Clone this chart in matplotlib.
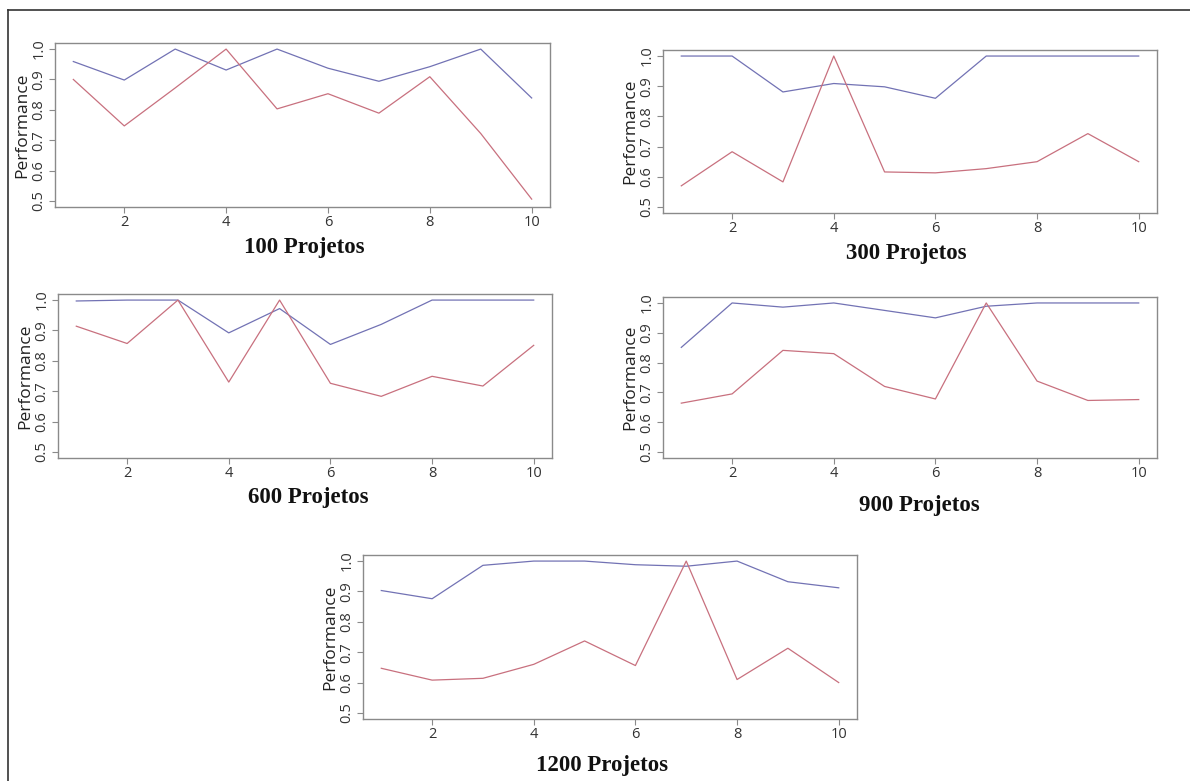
import matplotlib
matplotlib.use("Agg")
import matplotlib.pyplot as plt
from matplotlib.lines import Line2D

x = list(range(1, 11))

blue_100 = [0.959, 0.898, 1.0, 0.931, 1.0, 0.937, 0.894, 0.942, 1.0, 0.839]
red_100 = [0.900, 0.747, 0.872, 1.0, 0.803, 0.853, 0.789, 0.909, 0.722, 0.506]

blue_300 = [1.0, 1.0, 0.881, 0.909, 0.898, 0.860, 1.0, 1.0, 1.0, 1.0]
red_300 = [0.570, 0.683, 0.583, 1.0, 0.616, 0.613, 0.627, 0.650, 0.743, 0.650]

blue_600 = [0.997, 1.0, 1.0, 0.892, 0.972, 0.854, 0.920, 1.0, 1.0, 1.0]
red_600 = [0.914, 0.857, 1.0, 0.730, 1.0, 0.726, 0.683, 0.749, 0.717, 0.851]

blue_900 = [0.851, 1.0, 0.986, 1.0, 0.975, 0.950, 0.989, 1.0, 1.0, 1.0]
red_900 = [0.664, 0.695, 0.841, 0.830, 0.720, 0.678, 1.0, 0.738, 0.673, 0.676]

blue_1200 = [0.903, 0.876, 0.986, 1.0, 1.0, 0.988, 0.983, 1.0, 0.932, 0.912]
red_1200 = [0.647, 0.608, 0.614, 0.660, 0.737, 0.656, 1.0, 0.610, 0.713, 0.600]

titles = ["100 Projetos", "300 Projetos", "600 Projetos", "900 Projetos", "1200 Projetos"]
xticks = [2, 4, 6, 8, 10]
yticks = [0.5, 0.6, 0.7, 0.8, 0.9, 1.0]
ytick_labels = ["0.5", "0.6", "0.7", "0.8", "0.9", "1.0"]
ylabel = "Performance"

W, H = 1190, 781
fig = plt.figure(figsize=(W / 100, H / 100), dpi=100)
fig.patch.set_facecolor("white")

# axes boxes in pixels: left, right, top, bottom
boxes = [
    (55, 550, 43, 207),
    (663, 1157, 50, 213),
    (58, 552, 294, 458),
    (663, 1157, 297, 458),
    (363, 857, 555, 719),
]
# title centres in pixels
title_pos = [(304, 248), (906, 254), (308, 497), (919, 505), (602, 766)]

series = [
    (blue_100, red_100),
    (blue_300, red_300),
    (blue_600, red_600),
    (blue_900, red_900),
    (blue_1200, red_1200),
]

BLUE = "#7272b4"
RED = "#c8707e"
SPINE = "#8a8a8a"
TICKFONT = "Open Sans"

for (l, r, t, b), (bl, rd), title, (tx, ty) in zip(boxes, series, titles, title_pos):
    ax = fig.add_axes([l / W, 1 - b / H, (r - l) / W, (b - t) / H])
    ax.plot(x, bl, color=BLUE, lw=0.9)
    ax.plot(x, rd, color=RED, lw=0.9)
    ax.set_xlim(0.64, 10.36)
    ax.set_ylim(0.48, 1.02)
    ax.set_xticks(xticks)
    ax.set_xticklabels([str(v) for v in xticks], fontfamily=TICKFONT, fontsize=10.5, color="#333333")
    ax.set_yticks(yticks)
    ax.set_yticklabels(ytick_labels, fontfamily=TICKFONT, fontsize=10.5, color="#333333",
                       rotation=90, va="center")
    ax.tick_params(direction="out", length=4, width=0.8, color=SPINE, pad=2)
    for s in ax.spines.values():
        s.set_color(SPINE)
        s.set_linewidth(1.0)
    ax.set_ylabel(ylabel, fontfamily=TICKFONT, fontsize=12.5, color="#222222", labelpad=1)
    fig.text(tx / W, 1 - ty / H, title, ha="center", va="center",
             fontfamily="Liberation Serif", fontweight="bold", fontsize=16.5, color="#111111")

# outer frame (top and left edges)
fig.add_artist(Line2D([8 / W, 1.0], [1 - 10 / H, 1 - 10 / H], transform=fig.transFigure,
                      color="#333333", lw=1.2))
fig.add_artist(Line2D([8 / W, 8 / W], [1 - 10 / H, 0.0], transform=fig.transFigure,
                      color="#333333", lw=1.2))

fig.savefig("out.png", dpi=100)
